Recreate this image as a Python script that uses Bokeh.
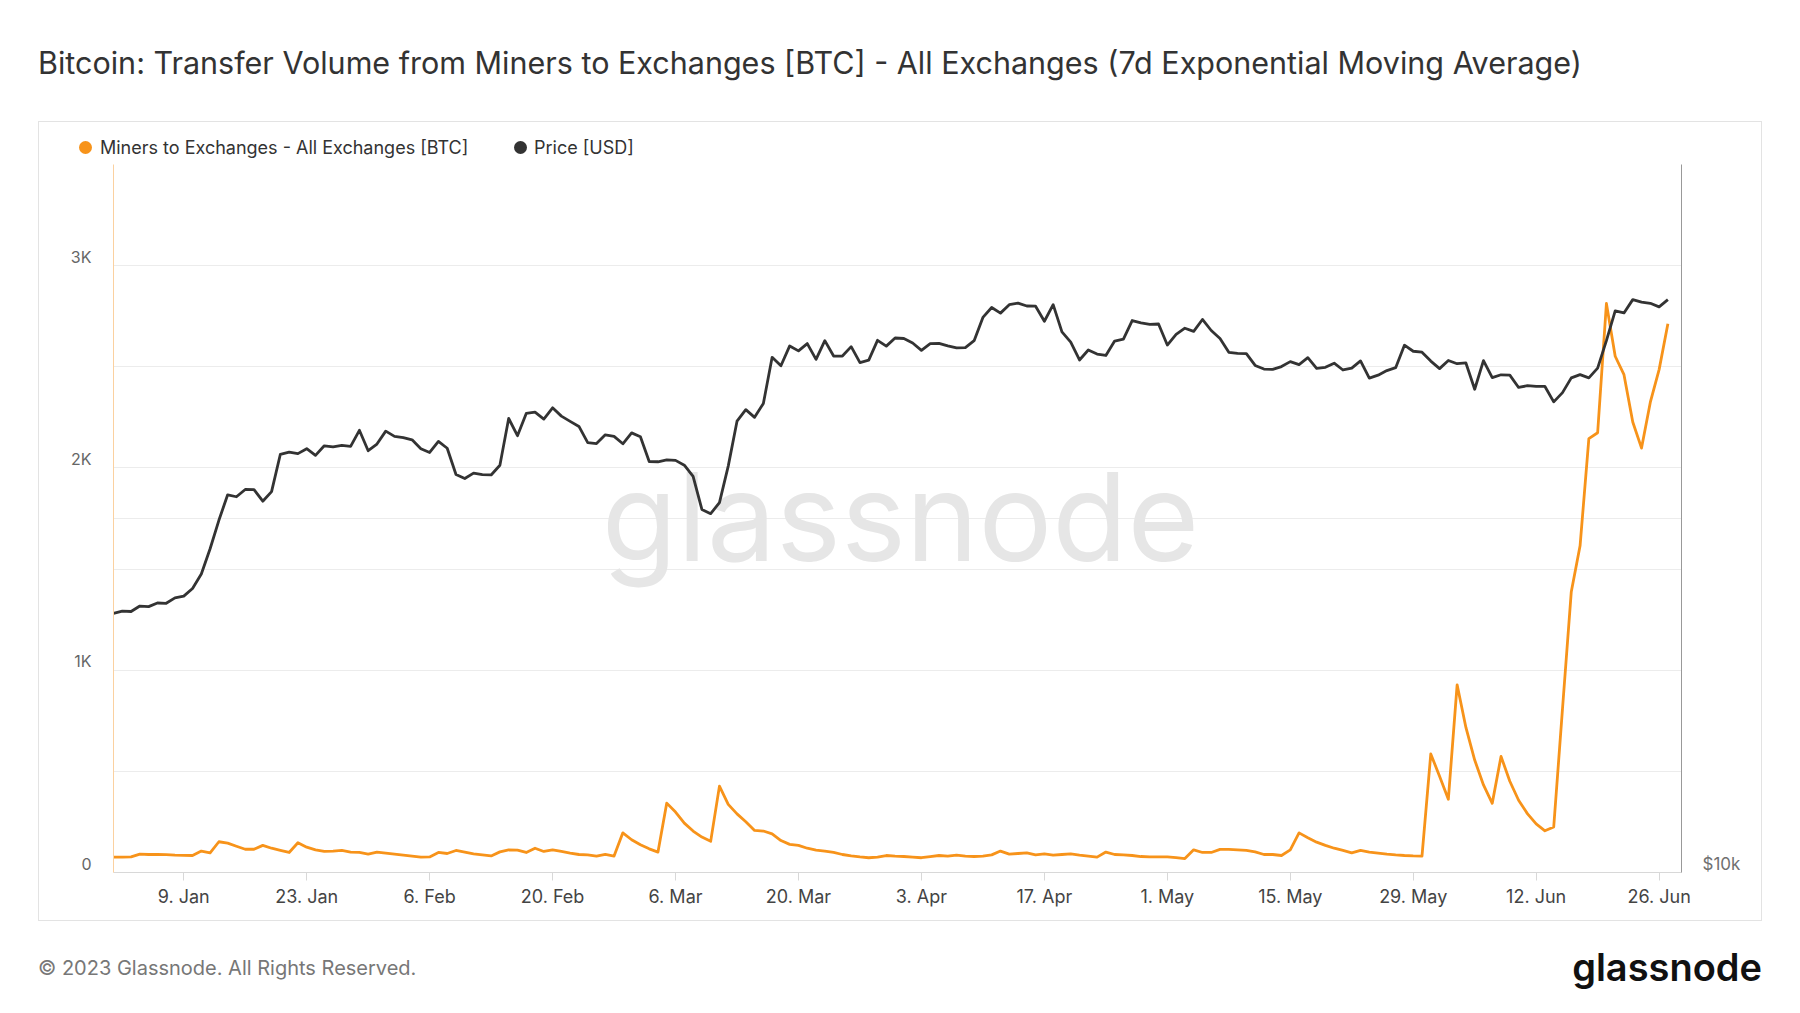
import math
import pandas as pd
from bokeh.plotting import figure
from bokeh.layouts import column, row
from bokeh.models import (Range1d, LogAxis, LogScale, FixedTicker, Label, Grid,
                          ColumnDataSource, Div)
from bokeh.embed import file_html
from bokeh.resources import INLINE

# ---------------- data ----------------
START_DATE = "2023-01-01"

btc_to_exchanges = [
    76, 76, 77, 91, 89, 89, 88, 86, 85, 84,
    106, 97, 152, 145, 130, 115, 115, 134, 120, 109,
    99, 147, 125, 112, 104, 106, 109, 101, 99, 91,
    101, 96, 91, 86, 81, 76, 77, 99, 94, 109,
    101, 92, 87, 82, 102, 112, 111, 99, 120, 104,
    112, 104, 96, 89, 87, 81, 89, 81, 196, 162,
    137, 117, 101, 343, 299, 244, 205, 175, 154, 427,
    337, 290, 251, 208, 205, 191, 158, 139, 134, 120,
    111, 106, 99, 89, 82, 77, 73, 76, 84, 81,
    79, 76, 73, 79, 84, 81, 86, 81, 79, 81,
    87, 106, 91, 94, 97, 87, 92, 86, 89, 92,
    86, 81, 76, 101, 89, 87, 84, 79, 77, 77,
    77, 74, 69, 112, 99, 99, 114, 114, 112, 109,
    102, 89, 89, 84, 112, 196, 172, 150, 134, 120,
    109, 97, 109, 101, 96, 91, 87, 84, 82, 81,
    586, 476, 362, 928, 717, 556, 433, 342, 574, 451,
    357, 291, 240, 206, 225, 810, 1388, 1615, 2145, 2174,
    2813, 2552, 2461, 2227, 2098, 2325, 2486, 2713,
]

price_usd = [
    # Jan
    16610, 16680, 16670, 16850, 16830, 16950, 16940, 17120, 17180, 17440,
    17940, 18850, 19930, 20950, 20870, 21170, 21160, 20690, 21080, 22680,
    22780, 22710, 22930, 22630, 23060, 23010, 23080, 23030, 23770, 22840, 23140,
    # Feb
    23730, 23490, 23430, 23330, 22930, 22760, 23260, 22950, 21800, 21630,
    21860, 21790, 21780, 22200, 24330, 23520, 24570, 24630, 24300, 24840,
    24440, 24190, 23950, 23200, 23160, 23560, 23490, 23150,
    # Mar
    23650, 23470, 22360, 22350, 22430, 22410, 22200, 21720, 20360, 20190,
    20630, 22160, 24200, 24750, 24380, 25050, 27420, 26970, 28040, 27770,
    28170, 27310, 28330, 27490, 27490, 28000, 27140, 27270, 28350, 28030, 28480,
    # Apr
    28450, 28200, 27800, 28170, 28180, 28040, 27930, 27950, 28330, 29650,
    30230, 29900, 30400, 30490, 30320, 30310, 29430, 30400, 28820, 28250,
    27280, 27820, 27600, 27520, 28310, 28420, 29470, 29340, 29250, 29270,
    # May
    28090, 28680, 29030, 28850, 29530, 28900, 28450, 27690, 27630, 27620,
    26990, 26800, 26780, 26930, 27190, 27030, 27400, 26830, 26890, 27110,
    26750, 26850, 27230, 26330, 26480, 26720, 26870, 28080, 27750, 27700, 27220,
    # Jun
    26820, 27250, 27080, 27120, 25760, 27240, 26350, 26500, 26480, 25850,
    25940, 25900, 25900, 25130, 25590, 26340, 26510, 26340, 26850, 28330,
    30030, 29910, 30700, 30550, 30480, 30270, 30700,
]

x_tick_dates = ["2023-01-09", "2023-01-23", "2023-02-06", "2023-02-20", "2023-03-06",
                "2023-03-20", "2023-04-03", "2023-04-17", "2023-05-01", "2023-05-15",
                "2023-05-29", "2023-06-12", "2023-06-26"]
x_tick_labels = ["9. Jan", "23. Jan", "6. Feb", "20. Feb", "6. Mar", "20. Mar", "3. Apr",
                 "17. Apr", "1. May", "15. May", "29. May", "12. Jun", "26. Jun"]
y_tick_values = [0, 1000, 2000, 3000]
y_tick_labels = ["0", "1K", "2K", "3K"]
y_grid_values = [500, 1000, 1500, 2000, 2500, 3000, 3500]
price_tick_values = [10000]
price_tick_labels = ["$10k"]
price_grid_values = [20000]

series_names = ["Miners to Exchanges - All Exchanges [BTC]", "Price [USD]"]
title_text = "Bitcoin: Transfer Volume from Miners to Exchanges [BTC] - All Exchanges (7d Exponential Moving Average)"
footer_text = "\u00a9 2023 Glassnode. All Rights Reserved."
logo_text = "glassnode"

# ---------------- styling ----------------
FONT = "Inter"
ORANGE = "#f7931a"
DARK = "#333333"
PAGE_LEFT = 38
TITLE_H = 121
BOX_W, BOX_H = 1724, 800
INNER_W = BOX_W - 2
LEGEND_H = 41
BL, BR, BT, BB = 74, 80, 1, 48
FRAME_H = 708
FIG_H = BT + FRAME_H + BB
Y_MAX = 3500
P_MIN, P_MAX = 10000, 40000
LIFT = 9  # tick labels sit above their gridline

dates = pd.date_range(START_DATE, periods=len(price_usd), freq="D")
src = ColumnDataSource(dict(date=dates, btc=btc_to_exchanges, price=price_usd))

x0 = pd.Timestamp(START_DATE)
x1 = x0 + pd.Timedelta(days=178.55)

p = figure(width=INNER_W, height=FIG_H, x_axis_type="datetime",
           x_range=Range1d(x0, x1), y_range=Range1d(0, Y_MAX),
           output_backend="svg", toolbar_location=None,
           min_border_left=BL, min_border_right=BR, min_border_top=BT, min_border_bottom=BB,
           margin=0)
p.outline_line_color = None
p.background_fill_color = None
p.border_fill_color = None

p.extra_y_ranges = {"price": Range1d(P_MIN, P_MAX)}
p.extra_y_scales = {"price": LogScale()}

# grids
p.xgrid.visible = False
p.ygrid.ticker = FixedTicker(ticks=y_grid_values)
p.ygrid.grid_line_color = "#ececec"
p.ygrid.grid_line_width = 1
pgrid = Grid(dimension=1, ticker=FixedTicker(ticks=price_grid_values), y_range_name="price",
             grid_line_color="#ececec", grid_line_width=1)
p.add_layout(pgrid)


def ms(d):
    return int(pd.Timestamp(d).value // 10**6)


# x axis
xt = [ms(d) for d in x_tick_dates]
xa = p.xaxis[0]
xa.ticker = FixedTicker(ticks=xt)
xa.major_label_overrides = {t: l for t, l in zip(xt, x_tick_labels)}
xa.axis_line_color = "#d8d8d8"
xa.major_tick_line_color = "#d8d8d8"
xa.major_tick_out = 8
xa.major_tick_in = 0
xa.minor_tick_line_color = None
xa.major_label_standoff = 5
xa.major_label_text_font = FONT
xa.major_label_text_font_size = "18px"
xa.major_label_text_color = "#444444"

# left axis
lift_left = int(round(LIFT * Y_MAX / FRAME_H))
yt = [v + lift_left for v in y_tick_values]
ya = p.yaxis[0]
ya.ticker = FixedTicker(ticks=yt)
ya.major_label_overrides = {t: l for t, l in zip(yt, y_tick_labels)}
ya.axis_line_color = "#fbd1a0"
ya.major_tick_line_color = None
ya.minor_tick_line_color = None
ya.major_tick_out = 0
ya.major_label_standoff = 22
ya.major_label_text_font = FONT
ya.major_label_text_font_size = "16px"
ya.major_label_text_color = "#666666"

# right axis (log price)
decade_px = FRAME_H / math.log10(P_MAX / P_MIN)
pt = [int(v * 10 ** (LIFT / decade_px)) for v in price_tick_values]
ra = LogAxis(y_range_name="price", ticker=FixedTicker(ticks=pt))
ra.major_label_overrides = {t: l for t, l in zip(pt, price_tick_labels)}
ra.axis_line_color = "#999999"
ra.major_tick_line_color = None
ra.minor_tick_line_color = None
ra.major_tick_out = 0
ra.major_label_standoff = 21
ra.major_label_text_font = FONT
ra.major_label_text_font_size = "17px"
ra.major_label_text_color = "#707070"
p.add_layout(ra, "right")

# watermark (inside the frame)
wm = Label(x=787, y=356, x_units="screen", y_units="screen", text=logo_text,
           text_font=FONT, text_font_size="123px", text_color="#e6e6e6",
           text_align="center", text_baseline="middle", level="underlay")
p.add_layout(wm)

# series
p.line("date", "btc", source=src, color=ORANGE, line_width=2.8, line_join="round")
p.line("date", "price", source=src, y_range_name="price", color=DARK, line_width=2.8,
       line_join="round")

# legend row (inside the box, above the plot frame)
def legend_entry(dot_left, text_left, color, label):
    return (f'<span style="position:absolute;left:{dot_left}px;top:19px;width:13px;height:13px;'
            f'border-radius:50%;background:{color};"></span>'
            f'<span style="position:absolute;left:{text_left}px;top:14px;line-height:24px;'
            f'white-space:nowrap;">{label}</span>')

legend_html = (f'<div style="position:relative;width:{INNER_W}px;height:{LEGEND_H}px;'
               f'font-family:Inter;font-size:18px;color:#333333;">'
               + legend_entry(40, 61, ORANGE, series_names[0])
               + legend_entry(475, 495, DARK, series_names[1])
               + '</div>')
legend_div = Div(text=legend_html, width=INNER_W, height=LEGEND_H, margin=0)

box = column(legend_div, p, width=BOX_W, height=BOX_H, margin=(0, 0, 0, PAGE_LEFT),
             styles={"border": "1px solid #e3e3e3", "box-sizing": "border-box"})

# title and footer as page text
title_div = Div(
    text=(f'<div style="padding-left:{PAGE_LEFT}px;padding-top:45px;line-height:36px;'
          f'font-family:Inter;font-size:30.5px;color:#333333;white-space:nowrap;">{title_text}</div>'),
    width=1780, height=TITLE_H, margin=0)
footer_div = Div(
    text=(f'<div style="padding-top:35px;line-height:24px;font-family:Inter;font-size:20px;'
          f'color:#777777;white-space:nowrap;">{footer_text}</div>'),
    width=900, height=80, margin=(0, 0, 0, PAGE_LEFT))
logo_div = Div(
    text=(f'<div style="width:824px;padding-top:24px;line-height:44px;font-family:Inter;'
          f'font-size:38px;font-weight:600;color:#111111;text-align:right;'
          f'white-space:nowrap;">{logo_text}</div>'),
    width=824, height=80, margin=0)

page = column(title_div, box, row(footer_div, logo_div, margin=0), margin=0)

open("out.html", "w").write(file_html(page, INLINE))
